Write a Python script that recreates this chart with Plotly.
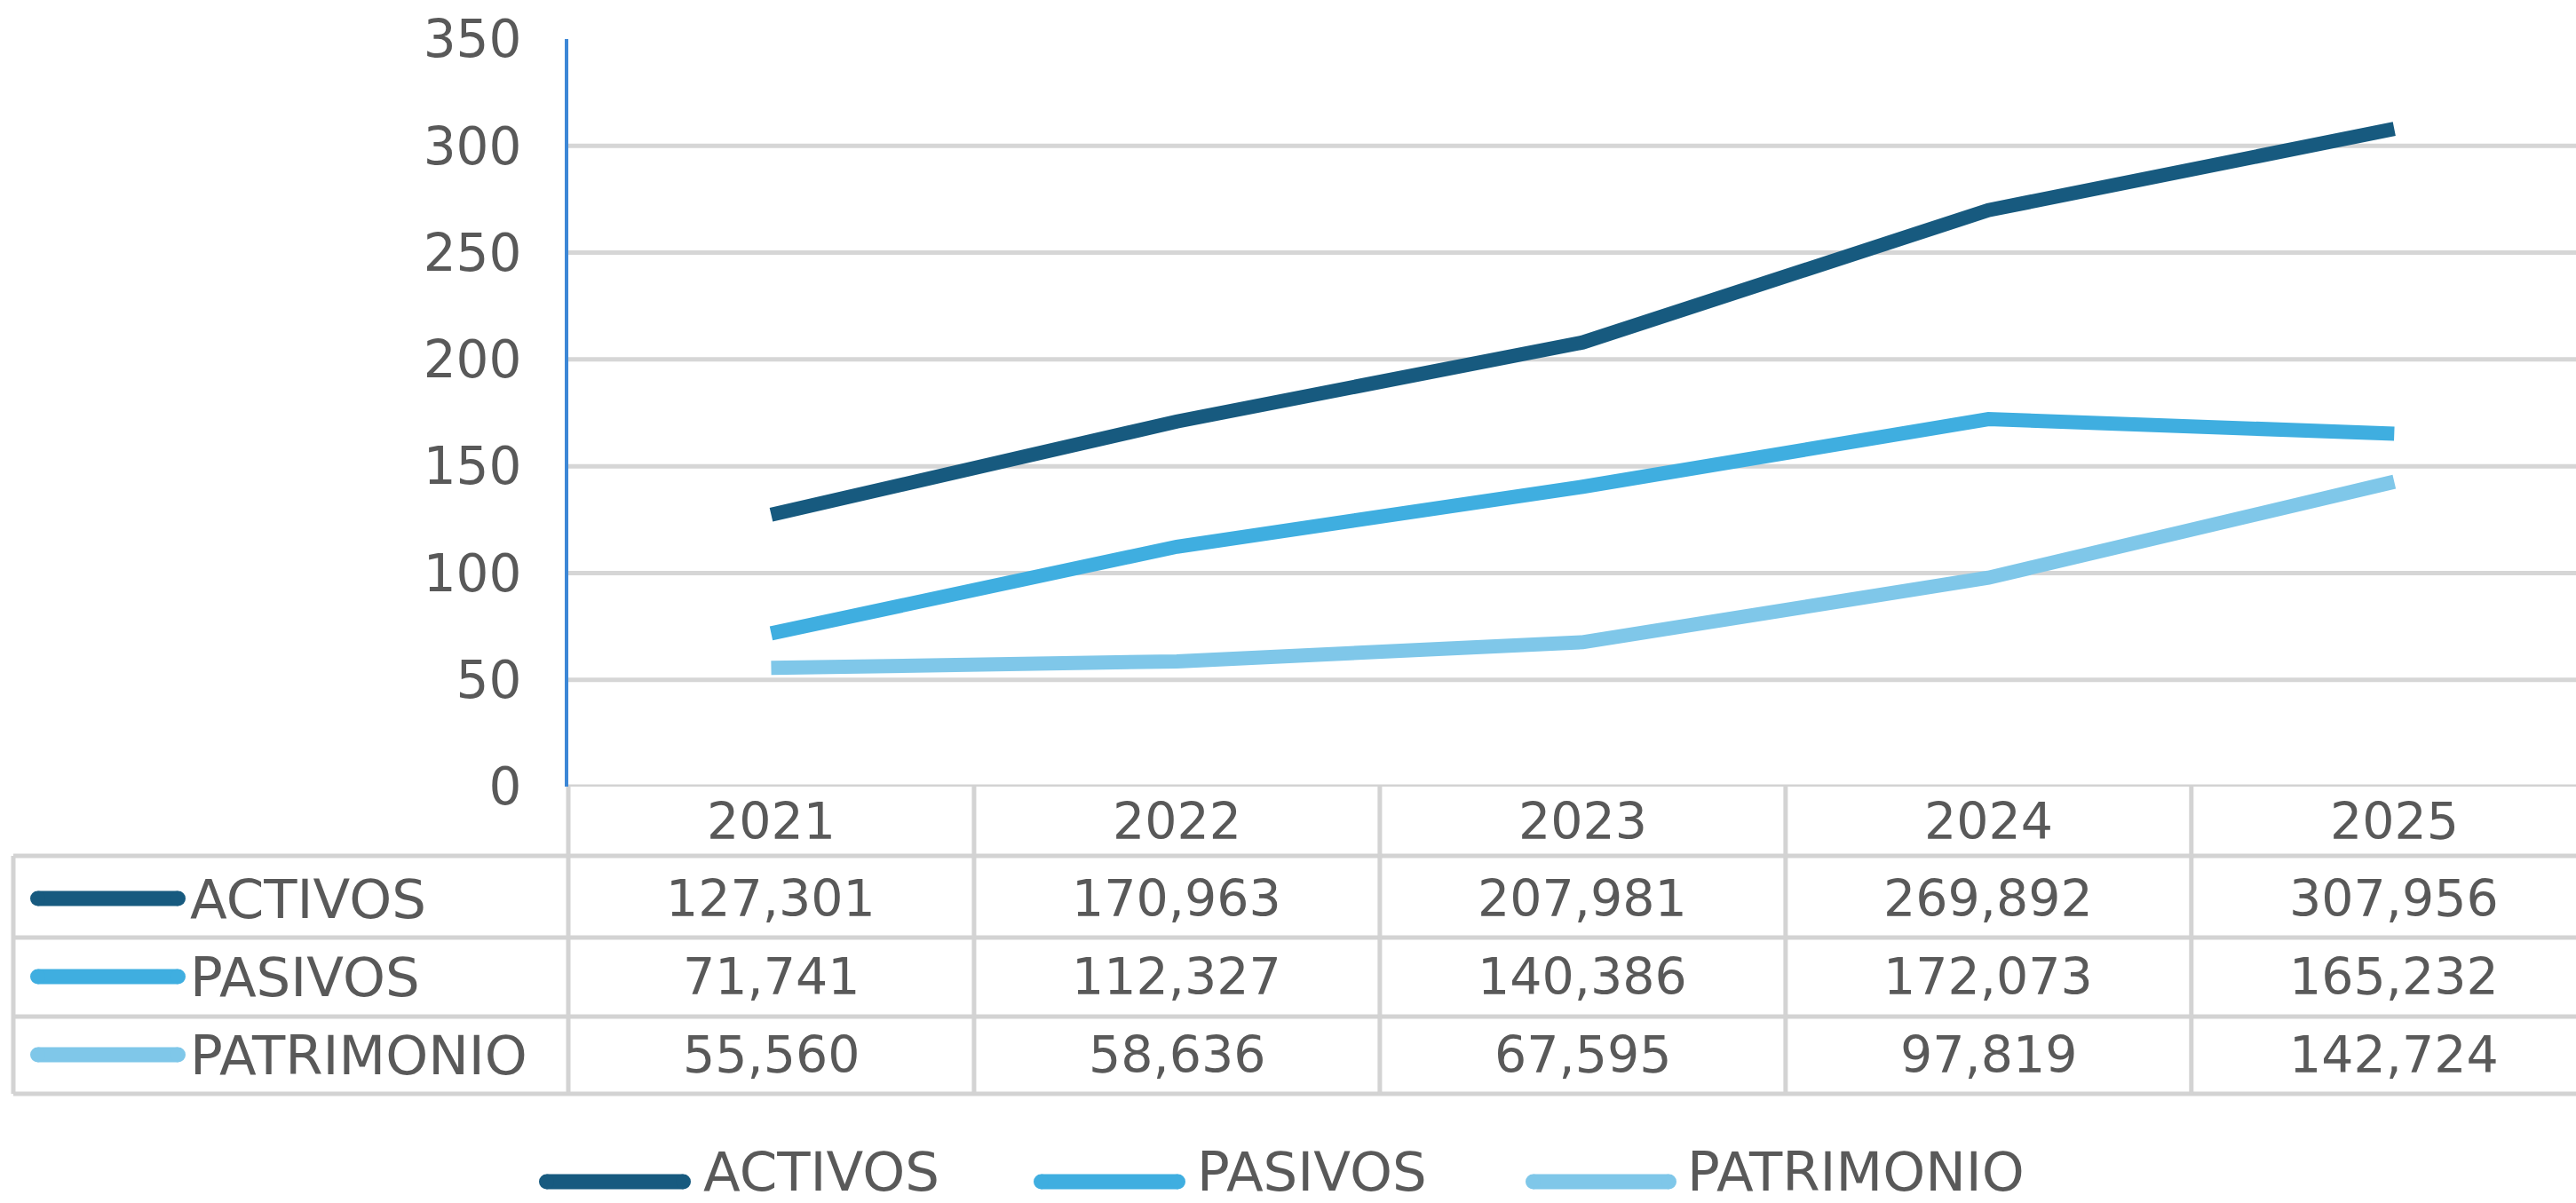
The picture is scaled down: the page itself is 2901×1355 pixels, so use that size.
import plotly.graph_objects as go

# ---------------- data ----------------
years = ["2021", "2022", "2023", "2024", "2025"]
series_names = ["ACTIVOS", "PASIVOS", "PATRIMONIO"]
activos = [127301, 170963, 207981, 269892, 307956]
pasivos = [71741, 112327, 140386, 172073, 165232]
patrimonio = [55560, 58636, 67595, 97819, 142724]
y_ticks = [0, 50, 100, 150, 200, 250, 300, 350]

# ---------------- style ----------------
colors = ["#175A7F", "#3FAEE0", "#7FC7E9"]
text_color = "#595959"
grid_color = "#D6D6D6"
axis_blue = "#3C87D6"
FONT = "DejaVu Sans"
FS = 57        # table numbers / years
FS_LABEL = 61  # row labels
FS_LEG = 61    # bottom legend
FS_Y = 58

W, H = 2901, 1355
L, R, T, B = 640, 0, 44, 469
PW = W - L - R
PH = H - T - B


def px_x(px):
    return (px - L) / PW


def px_y(py):
    return (H - B - py) / PH


fig = go.Figure()
all_series = [activos, pasivos, patrimonio]
for name, vals, col in zip(series_names, all_series, colors):
    fig.add_trace(go.Scatter(
        x=years, y=[v / 1000 for v in vals], mode="lines", name=name,
        line=dict(color=col, width=16), showlegend=False,
        hovertemplate="%{x}: %{y:,.3f}<extra>" + name + "</extra>",
    ))

shapes = []
annotations = []

# horizontal gridlines (not at 0, not at 350)
for t in y_ticks[1:-1]:
    shapes.append(dict(type="line", xref="paper", yref="y", x0=0, x1=1.02, y0=t, y1=t,
                       line=dict(color=grid_color, width=5), layer="below"))

table_line = dict(color="#D3D3D3", width=5)
# top border of table (y=0)
shapes.append(dict(type="line", xref="paper", yref="y", x0=0, x1=1.02, y0=0, y1=0, line=table_line))
row_lines = [964, 1056, 1145, 1232]
for ry in row_lines:
    shapes.append(dict(type="line", xref="paper", yref="paper", x0=px_x(15), x1=1.02,
                       y0=px_y(ry), y1=px_y(ry), line=table_line))
# vertical lines
shapes.append(dict(type="line", xref="paper", yref="paper", x0=0, x1=0,
                   y0=px_y(886), y1=px_y(1232), line=table_line))
shapes.append(dict(type="line", xref="paper", yref="paper", x0=px_x(15), x1=px_x(15),
                   y0=px_y(964), y1=px_y(1232), line=table_line))
for i in range(len(years) - 1):
    shapes.append(dict(type="line", xref="x", yref="paper", x0=i + 0.5, x1=i + 0.5,
                       y0=px_y(886), y1=px_y(1232), line=table_line))

# header years
for i, yr in enumerate(years):
    annotations.append(dict(x=i, y=px_y(925), xref="x", yref="paper", text=yr, showarrow=False,
                            xanchor="center", yanchor="middle",
                            font=dict(family=FONT, size=FS, color=text_color)))

row_centers = [1012, 1100, 1188]


def swatch(x0, x1, yc, col, th=17):
    out = [dict(type="line", xref="paper", yref="paper", x0=px_x(x0 + th / 2), x1=px_x(x1 - th / 2),
                y0=px_y(yc), y1=px_y(yc), line=dict(color=col, width=th))]
    for cx in (x0 + th / 2, x1 - th / 2):
        out.append(dict(type="circle", xref="paper", yref="paper",
                        x0=px_x(cx - th / 2), x1=px_x(cx + th / 2),
                        y0=px_y(yc + th / 2), y1=px_y(yc - th / 2),
                        fillcolor=col, line=dict(width=0)))
    return out


for name, vals, col, rc in zip(series_names, all_series, colors, row_centers):
    shapes.extend(swatch(34, 209, rc, col))
    annotations.append(dict(x=px_x(212), y=px_y(rc), xref="paper", yref="paper", text=name,
                            showarrow=False, xanchor="left", yanchor="middle",
                            font=dict(family=FONT, size=FS_LABEL, color=text_color)))
    for i, v in enumerate(vals):
        annotations.append(dict(x=i, y=px_y(rc), xref="x", yref="paper", text=f"{v:,}",
                                showarrow=False, xanchor="center", yanchor="middle",
                                font=dict(family=FONT, size=FS, color=text_color)))

# bottom legend
legend_items = [(607, 778, 790), (1164, 1335, 1346), (1718, 1888, 1898)]
for (s0, s1, tx), name, col in zip(legend_items, series_names, colors):
    shapes.extend(swatch(s0, s1, 1331, col))
    annotations.append(dict(x=px_x(tx), y=px_y(1319), xref="paper", yref="paper", text=name,
                            showarrow=False, xanchor="left", yanchor="middle",
                            font=dict(family=FONT, size=FS_LEG, color=text_color)))

fig.update_layout(
    width=W, height=H,
    margin=dict(l=L, r=R, t=T, b=B, pad=0),
    paper_bgcolor="white", plot_bgcolor="white",
    font=dict(family=FONT, size=FS, color=text_color),
    xaxis=dict(type="category", range=[-0.5, 4.448], showticklabels=False, showgrid=False,
               zeroline=False, showline=False, ticks=""),
    yaxis=dict(range=[0, 350], tickvals=y_ticks, showgrid=False, zeroline=False,
               showline=True, linecolor=axis_blue, linewidth=4, ticks="",
               ticklabelstandoff=37,
               tickfont=dict(family=FONT, size=FS_Y, color=text_color)),
    shapes=shapes, annotations=annotations, showlegend=False,
)

fig.write_html("out.html", config={"displayModeBar": False},
               post_script="document.body.style.margin='0';document.body.style.overflow='hidden';")
